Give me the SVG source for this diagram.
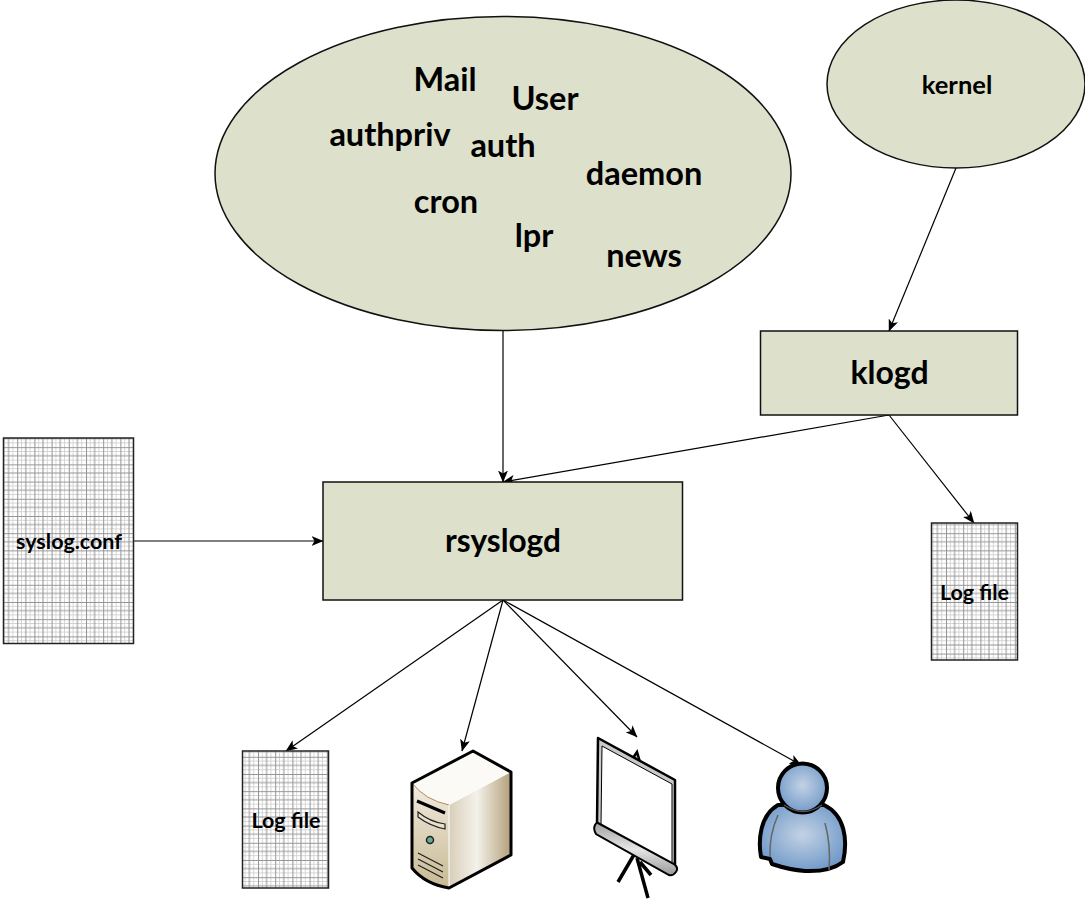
<svg xmlns="http://www.w3.org/2000/svg" width="1085" height="904" viewBox="0 0 1085 904">
  <style>
    .shape { fill: #dde1cb; stroke: #111; stroke-width: 1.5; }
    .sheet { fill: url(#grid); stroke: #222; stroke-width: 1.5; }
    .wire { fill: none; stroke: #000; stroke-width: 1.2; marker-end: url(#tip); }
    text { font-family: Lato, "Open Sans", "Liberation Sans", sans-serif; font-weight: 700; fill: #000; text-anchor: middle; }
    .big { font-size: 32.5px; }
    .mid { font-size: 25.5px; }
    .small { font-size: 21.5px; }
  </style>
  <defs>
    <marker id="tip" viewBox="0 0 12 10" refX="11.5" refY="5" markerWidth="12" markerHeight="10" markerUnits="userSpaceOnUse" orient="auto">
      <path d="M0 0L12 5L0 10L3 5Z" fill="#000"/>
    </marker>
    <!-- graph paper: light hairlines with a darker line every second step -->
    <pattern id="grid" width="17.2" height="17.2" patternUnits="userSpaceOnUse">
      <rect width="17.2" height="17.2" fill="#fff"/>
      <path d="M4.3 0V17.2M12.9 0V17.2M0 4.3H17.2M0 12.9H17.2" stroke="#d2d2d2" stroke-width="0.9"/>
      <path d="M0.5 0V17.2M8.6 0V17.2M0 0.5H17.2M0 8.6H17.2" stroke="#949494" stroke-width="1"/>
    </pattern>
    <linearGradient id="towerSide" x1="0" y1="0" x2="1" y2="0">
      <stop offset="0" stop-color="#d8cfb9"/>
      <stop offset="0.45" stop-color="#f4f1ea"/>
      <stop offset="1" stop-color="#b3a079"/>
    </linearGradient>
    <linearGradient id="towerFront" x1="0" y1="0" x2="0" y2="1">
      <stop offset="0" stop-color="#f1ece0"/>
      <stop offset="1" stop-color="#c8b994"/>
    </linearGradient>
    <linearGradient id="roller" x1="0" y1="0" x2="0" y2="1">
      <stop offset="0" stop-color="#a0a0a0"/>
      <stop offset="0.5" stop-color="#e6e6e6"/>
      <stop offset="1" stop-color="#9a9a9a"/>
    </linearGradient>
    <radialGradient id="skin" cx="0.5" cy="0.45" r="0.6">
      <stop offset="0" stop-color="#c3d2e4"/>
      <stop offset="1" stop-color="#6d97c8"/>
    </radialGradient>
  </defs>

  <g id="connectors">
    <path class="wire" d="M503 331V482"/>
    <path class="wire" d="M956 168L889 331"/>
    <path class="wire" d="M889 415L503 482"/>
    <path class="wire" d="M889 415L974 523"/>
    <path class="wire" d="M133 541H323"/>
    <path class="wire" d="M503 600L286 751"/>
    <path class="wire" d="M503 600L462 751"/>
    <path class="wire" d="M503 600L637 737"/>
    <path class="wire" d="M503 600L801 765"/>
  </g>

  <g id="facilities">
    <ellipse class="shape" cx="503" cy="173.500" rx="288" ry="157"/>
    <text class="big" x="445" y="91">Mail</text>
    <text class="big" x="545" y="110">User</text>
    <text class="big" x="390" y="146">authpriv</text>
    <text class="big" x="503" y="157">auth</text>
    <text class="big" x="644" y="185">daemon</text>
    <text class="big" x="446" y="213">cron</text>
    <text class="big" x="534" y="247">lpr</text>
    <text class="big" x="644" y="267">news</text>
  </g>

  <g id="kernel">
    <ellipse class="shape" cx="956" cy="84" rx="129" ry="84"/>
    <text class="mid" x="957" y="94">kernel</text>
  </g>

  <g id="klogd">
    <rect class="shape" x="760.500" y="331" width="257" height="84"/>
    <text style="font-size:32px" x="889.500" y="384">klogd</text>
  </g>

  <g id="rsyslogd">
    <rect class="shape" x="323" y="482" width="359.500" height="118"/>
    <text style="font-size:31.6px" x="503" y="552">rsyslogd</text>
  </g>

  <g id="syslog-conf">
    <rect class="sheet" x="3.500" y="438" width="130" height="205.500"/>
    <text class="small" x="69" y="549">syslog.conf</text>
  </g>

  <g id="log-file-klogd">
    <rect class="sheet" x="931.500" y="523" width="86" height="137"/>
    <text class="small" x="974.500" y="600">Log file</text>
  </g>

  <g id="log-file-rsyslogd">
    <rect class="sheet" x="242.500" y="751" width="86" height="137"/>
    <text class="small" x="286" y="828">Log file</text>
  </g>

  <g id="server">
    <path d="M449 805L511 772V855L449 888Z" fill="url(#towerSide)"/>
    <path d="M412 783L473 751L511 772L449 805Q425 800 412 783Z" fill="#fbfaf6"/>
    <path d="M412 783Q425 800 449 805V888Q425 884 412 868Z" fill="url(#towerFront)"/>
    <path d="M412 783Q425 800 449 805" fill="none" stroke="#b08a55" stroke-width="1"/>
    <path d="M449 805V888" fill="none" stroke="#fff" stroke-width="1"/>
    <path d="M412 783L473 751L511 772V855L449 888Q425 884 412 868Z" fill="none" stroke="#000" stroke-width="3" stroke-linejoin="round"/>
    <path d="M417 801L445 813" stroke="#000" stroke-width="3"/>
    <path d="M418 812Q430 822 445 824V829Q430 826 418 817Z" fill="#e8e0cc" stroke="#222" stroke-width="1.200"/>
    <circle cx="430" cy="840" r="3.500" fill="#6aa992" stroke="#222" stroke-width="1.500"/>
    <path d="M418 853L443 866M418 859L443 872M418 865L443 878" stroke="#222" stroke-width="1.300" fill="none"/>
  </g>

  <g id="projector-screen">
    <path d="M633 758L637 752L640 762" fill="#bbb" stroke="#000" stroke-width="2.500"/>
    <path d="M598 738L675 780V868L597 825Z" fill="#c9c9c9" stroke="#000" stroke-width="2.500" stroke-linejoin="round"/>
    <path d="M602 746L672 784V864L601 826Z" fill="#fff" stroke="#000" stroke-width="1"/>
    <path d="M635 853L618 882M637 858L648 898M640 862L651 875" fill="none" stroke="#000" stroke-width="3.500"/>
    <path d="M598 823L674 864Q679 868 676 872Q673 876 669 875L596 834Q593 829 595 825Q597 822 598 823Z" fill="url(#roller)" stroke="#000" stroke-width="2"/>
  </g>

  <g id="user">
    <path d="M778 805C760 815 758 840 761 857L770 859L772 864Q790 870 805 871Q830 872 843 862C848 840 845 815 824 805Z" fill="url(#skin)" stroke="#000" stroke-width="4" stroke-linejoin="round"/>
    <circle cx="802.500" cy="788" r="24.500" fill="url(#skin)" stroke="#000" stroke-width="4"/>
    <path d="M784 805Q803 818 822 805" fill="none" stroke="#555" stroke-width="1.500"/>
    <path d="M778 815Q769 835 770 857M825 823Q831 845 829 870" fill="none" stroke="#666" stroke-width="1.500"/>
  </g>
</svg>
